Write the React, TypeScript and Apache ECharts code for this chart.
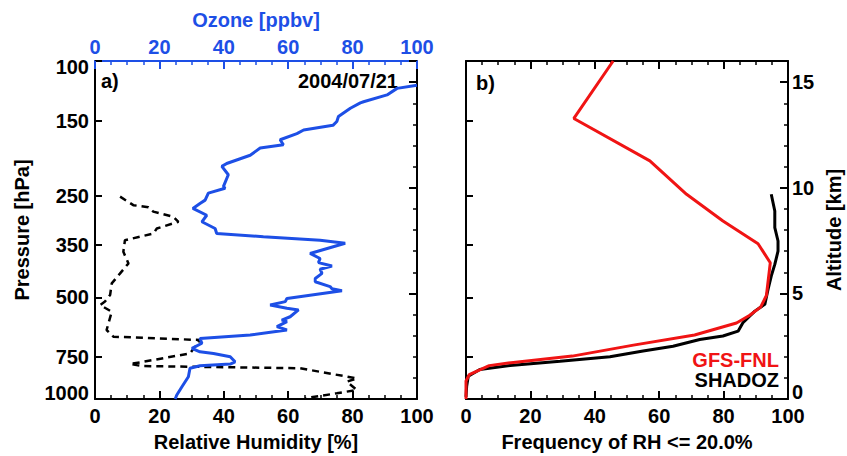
import React, { useEffect, useRef } from "react";
import * as echarts from "echarts";

// ---- Panel a: ozone profile (top axis, ppbv) vs pressure (hPa)
const ozonePressure = [118, 120.5, 126, 132, 133, 138, 146, 151, 155, 160, 164, 171, 177, 181, 190, 201, 205, 217, 235, 238, 246, 258, 264, 273, 286, 299, 313, 324, 331, 339, 346, 371, 384, 395, 404, 413, 425, 440, 450, 465, 472, 478, 504, 515, 527, 539, 545, 571, 584, 590, 611, 625, 647, 662, 684, 708, 725, 733, 750, 776, 788, 797, 811, 859, 920, 973, 1000];
const ozoneValues = [100, 93.8, 90.7, 83.4, 82.4, 79.3, 75.6, 75.1, 73.9, 64.8, 62.7, 57.5, 58.5, 51.3, 48.2, 40.9, 39.4, 41.4, 39.9, 40.4, 35.2, 34.2, 32.6, 30.4, 34.7, 33.2, 37.3, 37.8, 52.3, 69.9, 77.7, 66.8, 69.9, 69.4, 73.6, 69.9, 70.5, 68.4, 68.4, 73.0, 73.6, 76.7, 59.6, 59.1, 54.4, 59.6, 63.2, 60.6, 58.0, 59.6, 56.5, 59.6, 48.2, 32.6, 33.2, 30.1, 32.6, 36.8, 42.0, 43.5, 42.0, 32.6, 29.5, 29.0, 27.0, 25.4, 24.9];

// ---- Panel a: relative humidity (bottom axis, %) vs pressure (hPa)
const rhPressure = [252, 267, 271, 279, 289, 299, 313, 324, 339, 367, 397, 425, 455, 492, 515, 527, 552, 625, 654, 669, 733, 776, 788, 799, 811, 869, 889, 940, 962, 995];
const rhValues = [7.8, 11.9, 16.6, 18.1, 24.3, 25.9, 19.2, 18.1, 9.3, 8.8, 10.4, 7.8, 5.2, 4.7, 3.1, 1.6, 5.2, 3.6, 5.7, 32.6, 29.5, 15.0, 10.9, 15.0, 63.7, 81.3, 78.2, 81.3, 75.1, 65.3];

// ---- Panel b: frequency of RH <= 20% vs altitude (km)
const gfsAltitude = [16, 13.28, 11.27, 9.69, 8.43, 7.35, 6.45, 4.9, 4.35, 3.95, 3.6, 3.03, 2.55, 2.03, 1.72, 1.58, 1.15, 0.85, 0];
const gfsFrequency = [45.7, 33.5, 57.1, 68.5, 79.8, 90.7, 94.5, 93.3, 91.5, 88.0, 84.0, 71.0, 52.0, 33.0, 14.0, 7.2, 1.0, 0, 0];
const shadozAltitude = [9.69, 8.9, 8.11, 7.48, 7.0, 6.37, 5.82, 5.19, 4.48, 4.16, 3.61, 3.21, 2.98, 2.82, 2.5, 2.27, 2.0, 1.79, 1.59, 1.4, 1.08, 0.6, 0.1];
const shadozFrequency = [94.8, 95.9, 95.9, 96.9, 96.9, 95.9, 94.8, 93.8, 92.8, 89.7, 86.0, 84.5, 79.8, 72.6, 64.3, 55.0, 44.7, 29.2, 13.7, 4.3, 0.7, 0.2, 0];

// ---- Tick labels
const pressureTicks = [100, 150, 250, 350, 500, 750, 1000];
const percentTicks = [0, 20, 40, 60, 80, 100];
const altitudeTicks = [0, 5, 10, 15];

const FONT = '"Liberation Sans", Arial, Helvetica, sans-serif';
const BLUE = "#1d4fe6";
const RED = "#f01414";
const BLACK = "#000000";

const textBase = { fontFamily: FONT, fontWeight: "bold" as const, fontSize: 20 };

function xAxisDef(gridIndex: number, position: "top" | "bottom", color: string, showLabels: boolean, name: string) {
  return {
    type: "value",
    gridIndex,
    position,
    min: percentTicks[0],
    max: percentTicks[percentTicks.length - 1],
    interval: 20,
    name,
    nameLocation: "middle",
    nameGap: position === "bottom" ? 33 : 31,
    nameTextStyle: { ...textBase, color },
    axisLine: { show: true, onZero: false, lineStyle: { color, width: 2 } },
    axisTick: { show: true, inside: true, length: 8, lineStyle: { color, width: 2 } },
    minorTick: { show: true, splitNumber: 4, length: 4, lineStyle: { color, width: 1.5 } },
    axisLabel: { show: showLabels, ...textBase, color, margin: position === "bottom" ? 7 : 4 },
    splitLine: { show: false },
    minorSplitLine: { show: false },
  };
}

function pressureAxis(gridIndex: number, showLabels: boolean, name: string) {
  return {
    type: "log",
    logBase: 10,
    gridIndex,
    position: "left",
    inverse: true,
    min: 100,
    max: 1000,
    name,
    nameLocation: "middle",
    nameGap: 63,
    nameTextStyle: { ...textBase, color: BLACK },
    axisLine: { show: true, onZero: false, lineStyle: { color: BLACK, width: 2 } },
    axisTick: { show: true, inside: true, length: 7, customValues: pressureTicks, lineStyle: { color: BLACK, width: 2 } },
    minorTick: { show: false },
    axisLabel: {
      show: showLabels,
      customValues: pressureTicks,
      ...textBase,
      color: BLACK,
      margin: 6,
      formatter: (v: number) => {
        const s = String(Math.round(v));
        if (Math.round(v) === 100) return "{t|" + s + "}";
        if (Math.round(v) === 1000) return "{b|" + s + "}";
        return "{n|" + s + "}";
      },
      rich: {
        t: { ...textBase, color: BLACK, padding: [11, 0, 0, 0] },
        b: { ...textBase, color: BLACK, padding: [0, 0, 12, 0] },
        n: { ...textBase, color: BLACK },
      },
    },
    splitLine: { show: false },
  };
}

function altitudeAxis(gridIndex: number, showLabels: boolean, name: string) {
  return {
    type: "value",
    gridIndex,
    position: "right",
    min: 0,
    max: 16,
    interval: 5,
    name,
    nameLocation: "middle",
    nameGap: 36,
    nameTextStyle: { ...textBase, color: BLACK },
    axisLine: { show: true, onZero: false, lineStyle: { color: BLACK, width: 2 } },
    axisTick: { show: true, inside: true, length: 8, lineStyle: { color: BLACK, width: 2 } },
    minorTick: { show: true, splitNumber: 5, length: 4, lineStyle: { color: BLACK, width: 1.5 } },
    axisLabel: {
      show: showLabels,
      showMaxLabel: false,
      ...textBase,
      color: BLACK,
      margin: 4,
      formatter: (v: number) => (v === 0 ? "{z|0}" : "{n|" + v + "}"),
      rich: {
        z: { ...textBase, color: BLACK, padding: [0, 0, 14, 0] },
        n: { ...textBase, color: BLACK },
      },
    },
    splitLine: { show: false },
    minorSplitLine: { show: false },
  };
}

export default function App() {
  const ref = useRef<HTMLDivElement>(null);

  useEffect(() => {
    document.body.style.margin = "0";
    if (!ref.current) return;
    const chart = echarts.init(ref.current, undefined, { renderer: "svg" });

    const ozoneData = ozonePressure.map((p, i) => [ozoneValues[i], p]);
    const rhData = rhPressure.map((p, i) => [rhValues[i], p]);
    const gfsData = gfsAltitude.map((a, i) => [gfsFrequency[i], a]);
    const shadozData = shadozAltitude.map((a, i) => [shadozFrequency[i], a]);

    const option: any = {
      animation: false,
      backgroundColor: "#ffffff",
      grid: [
        { left: 95, top: 61, width: 322, height: 338, containLabel: false, outerBoundsMode: "none" },
        { left: 466, top: 61, width: 322, height: 338, containLabel: false, outerBoundsMode: "none" },
      ],
      xAxis: [
        xAxisDef(0, "bottom", BLACK, true, "Relative Humidity [%]"),
        xAxisDef(0, "top", BLUE, true, "Ozone [ppbv]"),
        xAxisDef(1, "bottom", BLACK, true, "Frequency of RH <= 20.0%"),
        xAxisDef(1, "top", BLACK, false, ""),
      ],
      yAxis: [
        pressureAxis(0, true, "Pressure [hPa]"),
        altitudeAxis(0, false, ""),
        pressureAxis(1, false, ""),
        altitudeAxis(1, true, "Altitude [km]"),
      ],
      series: [
        {
          name: "RH",
          type: "line",
          xAxisIndex: 0,
          yAxisIndex: 0,
          data: rhData,
          showSymbol: false,
          symbol: "none",
          lineStyle: { color: BLACK, width: 2.5, type: [7, 5] },
          clip: true,
          z: 2,
        },
        {
          name: "Ozone",
          type: "line",
          xAxisIndex: 1,
          yAxisIndex: 0,
          data: ozoneData,
          showSymbol: false,
          symbol: "none",
          lineStyle: { color: BLUE, width: 3 },
          clip: true,
          z: 3,
        },
        {
          name: "SHADOZ",
          type: "line",
          xAxisIndex: 2,
          yAxisIndex: 3,
          data: shadozData,
          showSymbol: false,
          symbol: "none",
          lineStyle: { color: BLACK, width: 3 },
          clip: true,
          z: 2,
        },
        {
          name: "GFS-FNL",
          type: "line",
          xAxisIndex: 2,
          yAxisIndex: 3,
          data: gfsData,
          showSymbol: false,
          symbol: "none",
          lineStyle: { color: RED, width: 3 },
          clip: true,
          z: 3,
        },
      ],
      graphic: [
        { type: "text", x: 101, y: 81, style: { text: "a)", ...textBase, fill: BLACK, align: "left", verticalAlign: "middle" } },
        { type: "text", x: 398, y: 81, style: { text: "2004/07/21", ...textBase, fill: BLACK, align: "right", verticalAlign: "middle" } },
        { type: "text", x: 476, y: 83, style: { text: "b)", ...textBase, fill: BLACK, align: "left", verticalAlign: "middle" } },
        { type: "text", x: 779, y: 360, style: { text: "GFS-FNL", ...textBase, fill: RED, align: "right", verticalAlign: "middle" } },
        { type: "text", x: 779, y: 380, style: { text: "SHADOZ", ...textBase, fill: BLACK, align: "right", verticalAlign: "middle" } },
      ],
    };

    chart.setOption(option);
    return () => chart.dispose();
  }, []);

  return <div ref={ref} style={{ width: 847, height: 456 }} />;
}
